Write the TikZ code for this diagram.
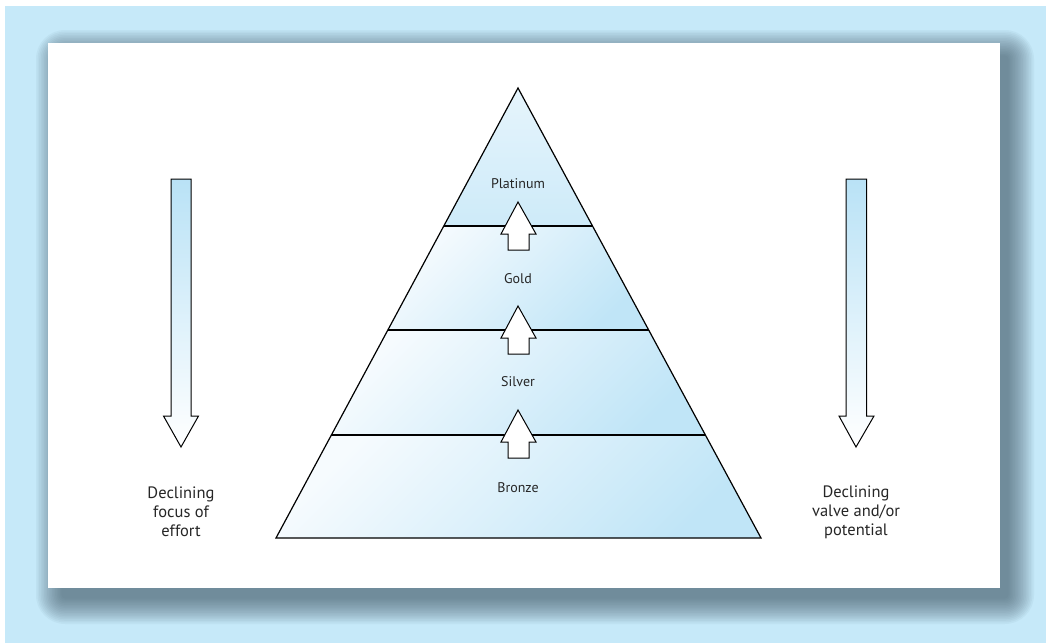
\documentclass[tikz,border=0pt]{standalone}
\usepackage{fontspec}
\setmainfont{PT Sans}
\usetikzlibrary{calc}
\definecolor{panelblue}{RGB}{198,233,249}
\definecolor{shadowc}{RGB}{60,85,100}
\definecolor{pyrlight}{RGB}{246,251,254}
\definecolor{pyrblue}{RGB}{192,229,247}
\definecolor{arrowblue}{RGB}{185,226,246}
\tikzset{
  band/.style={top color=pyrlight, bottom color=pyrblue, shading angle=45},
  blockarrow/.style={draw=black, line width=1pt, fill=white},
  label/.style={font=\fontsize{14}{16}\selectfont, text=black!85},
  side/.style={font=\fontsize{16.5}{19}\selectfont, text=black!85, align=center}
}
\begin{document}
\begin{tikzpicture}[x=1pt, y=-1pt]
  \useasboundingbox (0,0) rectangle (1046,643);
  % panel and card
  \fill[panelblue] (5,6) rectangle (1046,643);
  \foreach \i in {0,...,16}{
    \pgfmathsetmacro{\r}{26-1.6*\i}
    \fill[shadowc, opacity=0.05, rounded corners=\r pt+3pt]
      (62-\r,56-\r) rectangle (1008+\r,598+\r);
  }
  \fill[white] (48,43) rectangle (1000,588);
  % pyramid
  \coordinate (top) at (518,88);
  \coordinate (bl) at (276,538);
  \coordinate (br) at (761,538);
  \coordinate (l1) at ($(top)!0.3067!(bl)$);
  \coordinate (r1) at ($(top)!0.3067!(br)$);
  \coordinate (l2) at ($(top)!0.5378!(bl)$);
  \coordinate (r2) at ($(top)!0.5378!(br)$);
  \coordinate (l3) at ($(top)!0.7711!(bl)$);
  \coordinate (r3) at ($(top)!0.7711!(br)$);
  \shade[band, top color=pyrlight!70!pyrblue, bottom color=pyrlight!25!pyrblue] (top) -- (l1) -- (r1) -- cycle;
  \shade[band] (l1) -- (l2) -- (r2) -- (r1) -- cycle;
  \shade[band] (l2) -- (l3) -- (r3) -- (r2) -- cycle;
  \shade[band] (l3) -- (bl) -- (br) -- (r3) -- cycle;
  \draw[line width=1.2pt, line join=miter] (top) -- (bl) -- (br) -- cycle;
  \draw[line width=1.1pt] (l1) -- (r1);
  \draw[line width=1.1pt] (l2) -- (r2);
  \draw[line width=1.1pt] (l3) -- (r3);
  % up arrows between levels
  \foreach \t in {202,306,410}
    \draw[blockarrow] (518,\t) -- (536,\t+32) -- (529,\t+32) -- (529,\t+48)
      -- (508,\t+48) -- (508,\t+32) -- (501,\t+32) -- cycle;
  \node[label] (platinum) at (518,184) {Platinum};
  \node[label] (gold) at (518,279) {Gold};
  \node[label] (silver) at (518,382) {Silver};
  \node[label] (bronze) at (518,488) {Bronze};
  % side arrows
  \draw[line width=1pt, top color=arrowblue, middle color=arrowblue!55, bottom color=white]
    (171,179) -- (191,179) -- (191,416) -- (198.5,416) -- (181,447)
    -- (163.5,416) -- (171,416) -- cycle;
  \draw[line width=1pt, top color=arrowblue, middle color=arrowblue!55, bottom color=white]
    (846,179) -- (866.5,179) -- (866.5,416) -- (874,416) -- (856,447)
    -- (839,416) -- (846,416) -- cycle;
  \node[side] (effort) at (181,512) {Declining\\focus of\\effort};
  \node[side] (value) at (856,512) {Declining\\valve and/or\\potential};
\end{tikzpicture}
\end{document}
